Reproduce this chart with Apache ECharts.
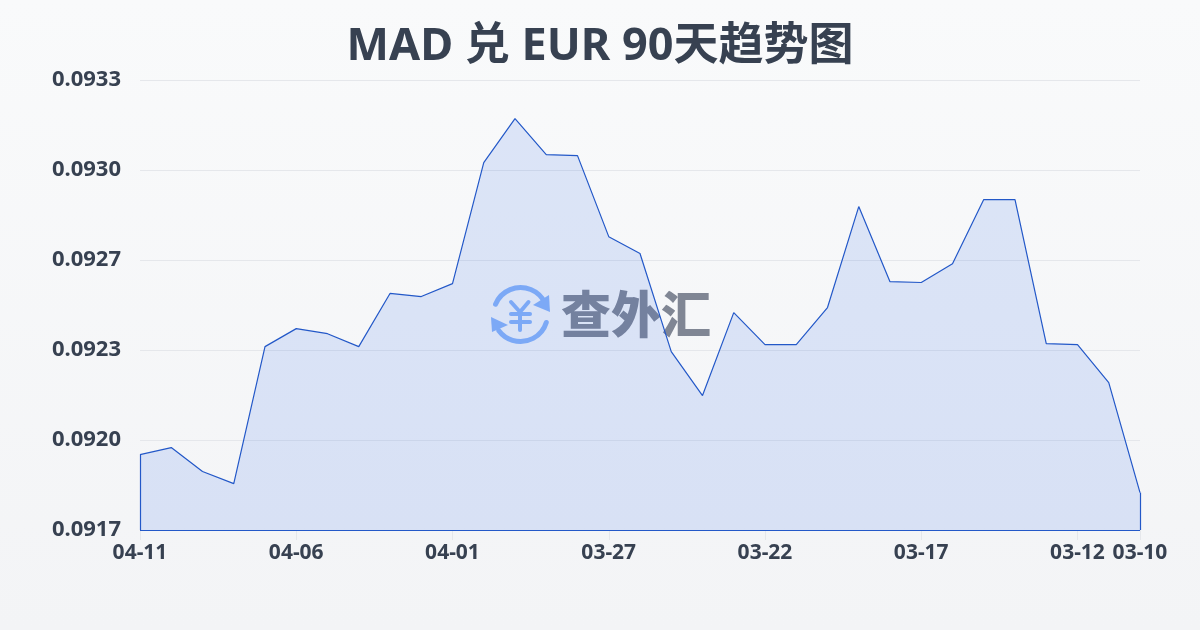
<!DOCTYPE html>
<html><head><meta charset="utf-8">
<style>html,body{margin:0;padding:0;background:#f9fafb}#c{width:1200px;height:630px}</style>
<script src="https://cdn.jsdelivr.net/npm/echarts@6/dist/echarts.min.js"></script>
</head><body><div id="c"></div>
<script>
const titleText = 'MAD 兑 EUR 90天趋势图';
const dates = ['04-11','04-10','04-09','04-08','04-07','04-06','04-05','04-04','04-03','04-02','04-01','03-31','03-30','03-29','03-28','03-27','03-26','03-25','03-24','03-23','03-22','03-21','03-20','03-19','03-18','03-17','03-16','03-15','03-14','03-13','03-12','03-11','03-10'];
const rates = [0.091968,0.091993,0.091908,0.091865,0.092352,0.092416,0.092398,0.092352,0.092541,0.09253,0.092576,0.093006,0.093163,0.093035,0.093031,0.092743,0.092683,0.092334,0.092178,0.092473,0.092359,0.092359,0.092491,0.09285,0.092583,0.09258,0.092647,0.092875,0.092875,0.092363,0.092359,0.092224,0.091833];
const yMin = 0.0917, yMax = 0.0933, yStep = 0.00032;
const font = '"Noto Sans","Noto Sans CJK SC",sans-serif';
const tickFont = '"Noto Sans",sans-serif';
const ink = '#374151', blue = '#2358c8', wm = '#8ab4f8';
const showIdx = (i) => i % 5 === 0 || i === dates.length - 1;
const chart = echarts.init(document.getElementById('c'), null, {renderer:'canvas'});
const cx = 520.5, cy = 314.5, r = 27;
const seg = (x1,y1,x2,y2) => ({type:'line',z:0,shape:{x1,y1,x2,y2},style:{stroke:wm,lineWidth:4,lineCap:'round'}});
chart.setOption({
  animation:false,
  backgroundColor:{type:'linear',x:0,y:0,x2:0,y2:1,colorStops:[{offset:0,color:'#f9fafb'},{offset:1,color:'#f3f4f6'}]},
  title:{text:titleText,left:'center',top:20,textStyle:{fontFamily:font,fontWeight:'bold',fontSize:45,color:ink}},
  grid:{left:140,right:60,top:80,bottom:100},
  xAxis:{type:'category',data:dates,boundaryGap:false,
    axisLine:{show:false},
    axisTick:{show:true,length:10,interval:(i)=>showIdx(i),lineStyle:{color:'#e5e7eb'}},
    axisLabel:{interval:(i)=>showIdx(i),color:ink,fontFamily:tickFont,fontWeight:'bold',fontSize:21,margin:13,hideOverlap:false},
    splitLine:{show:false}},
  yAxis:{type:'value',min:yMin,max:yMax,interval:yStep,
    axisLine:{show:false},axisTick:{show:false},
    axisLabel:{formatter:(v)=>v.toFixed(4),color:ink,fontFamily:tickFont,fontWeight:'bold',fontSize:22,margin:19},
    splitLine:{lineStyle:{color:'#e5e7eb',width:1}}},
  graphic:[
    {type:'text',z:0,left:561,top:289,style:{text:'查外汇',fontFamily:'"Noto Sans CJK SC"',fontWeight:900,fontSize:50,fill:'#808694'}},
    {type:'arc',z:0,shape:{cx,cy,r,startAngle:-2.75,endAngle:-0.45},style:{stroke:wm,lineWidth:5,fill:null,lineCap:'round'}},
    {type:'arc',z:0,shape:{cx,cy,r,startAngle:0.3,endAngle:2.5},style:{stroke:wm,lineWidth:5,fill:null,lineCap:'round'}},
    {type:'polygon',z:0,shape:{points:[[549,295],[550,312],[533,305]]},style:{fill:wm}},
    {type:'polygon',z:0,shape:{points:[[491,317],[492,332],[508,325]]},style:{fill:wm}},
    seg(511,302,520,312), seg(528.5,302,520,312), seg(511,314,530,314), seg(511,322,530,322), seg(520,312,520,330)
  ],
  series:[{type:'line',data:rates,symbol:'none',smooth:false,z:3,
    lineStyle:{color:blue,width:1.2},
    areaStyle:{color:'rgba(37,99,235,0.19)'},
    markLine:{silent:true,symbol:'none',label:{show:false},lineStyle:{color:blue,width:1.2,type:'solid'},
      data:[
        [{coord:[0,yMin]},{coord:[dates.length-1,yMin]}],
        [{coord:[0,yMin]},{coord:[0,rates[0]]}],
        [{coord:[dates.length-1,yMin]},{coord:[dates.length-1,rates[rates.length-1]]}]
      ]}
  }]
});
</script></body></html>
